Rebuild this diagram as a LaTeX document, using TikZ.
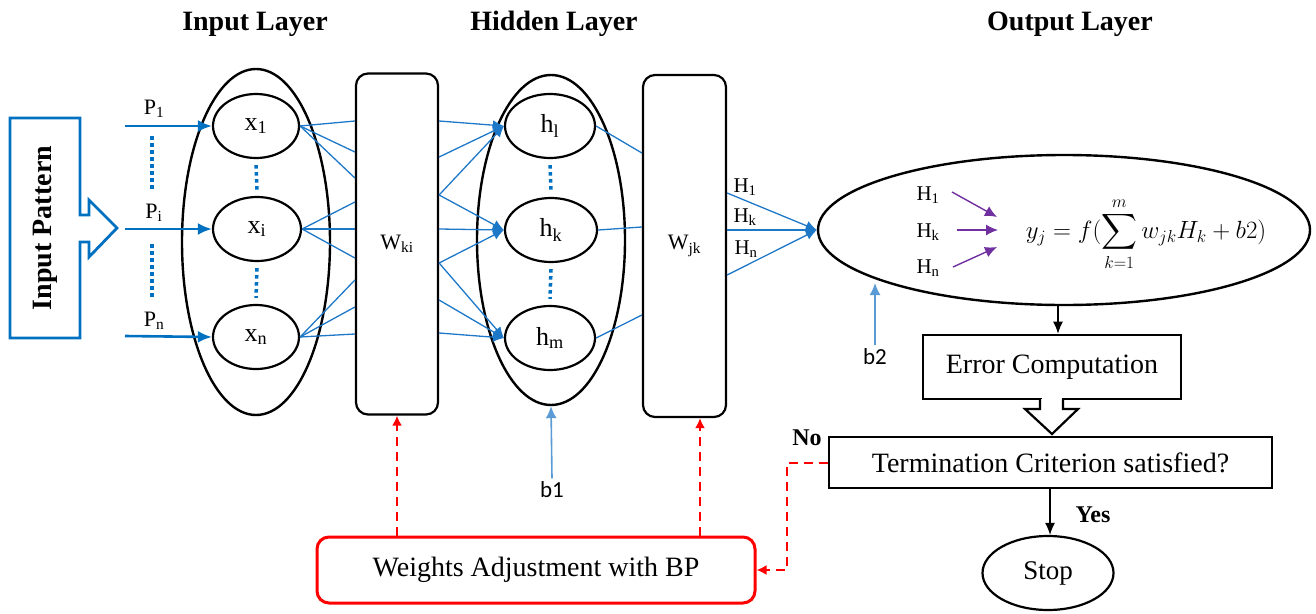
\documentclass[tikz,border=0pt]{standalone}
\usepackage{amsmath}
\usepackage{fontspec}
\setmainfont{Liberation Serif}
\newfontfamily\calib{Carlito}
\usetikzlibrary{shapes.geometric,arrows.meta,calc}
\definecolor{dblue}{RGB}{0,112,192}
\definecolor{lblue}{RGB}{30,120,200}
\definecolor{bblue}{RGB}{91,155,213}
\definecolor{purp}{RGB}{112,48,160}
\definecolor{myred}{RGB}{255,0,0}
\newcommand\fsz[1]{\fontsize{#1}{#1}\selectfont}
\tikzset{
  title/.style={font=\fsz{28}\bfseries},
  bigell/.style={ellipse, draw, line width=2.4pt, inner sep=0pt},
  neuron/.style={ellipse, draw, line width=2.2pt, inner sep=0pt, minimum height=64pt, font=\fsz{26}},
  wbox/.style={draw, line width=2.2pt, rounded corners=12pt, minimum width=82pt, minimum height=341pt, font=\fsz{22}},
  conn/.style={draw=lblue, line width=1.3pt},
  connarr/.style={conn, -{Latex[length=11pt,width=10pt]}},
  parrow/.style={draw=dblue, line width=2.6pt, -{Latex[length=14pt,width=12pt]}},
  dots/.style={draw=dblue, line width=3.5pt, dash pattern=on 3.5pt off 3.5pt},
  plabel/.style={font=\fsz{22}},
  hlab/.style={font=\fsz{21}},
  bias/.style={draw=bblue, line width=1.6pt, -{Latex[length=12pt,width=11pt]}},
  biaslab/.style={font=\calib\fsz{23}},
  parr/.style={draw=purp, line width=1.4pt, -{Latex[length=12pt,width=11pt]}},
  redarr/.style={draw=myred, line width=2pt, dash pattern=on 9pt off 6pt, -{Latex[length=10pt,width=10pt]}},
  flowbox/.style={draw, line width=2.6pt, font=\fsz{28}, inner sep=0pt},
  blkarr/.style={draw, line width=1.3pt, -{Latex[length=12pt,width=10pt]}},
}
\begin{document}
\begin{tikzpicture}[x=1pt,y=-1pt]
\useasboundingbox (0,0) rectangle (1316,613);

% titles
\node[title] (tin) at (255,24) {Input Layer};
\node[title] (thid) at (554,24) {Hidden Layer};
\node[title] (tout) at (1070,24) {Output Layer};

% input pattern block arrow
\draw[dblue, line width=2.8pt, line join=miter]
  (10,118) -- (80,118) -- (80,215) -- (89,215) -- (89,200) -- (117,228)
  -- (89,257) -- (89,242) -- (80,242) -- (80,338) -- (10,338) -- cycle;
\node[font=\fsz{28}\bfseries, rotate=90] (ip) at (45,228) {Input Pattern};

% input layer
\node[bigell, minimum width=148pt, minimum height=346pt] (inl) at (256,242) {};
\node[neuron, minimum width=86pt] (x1) at (256,126) {x\textsubscript{1}};
\node[neuron, minimum width=88pt] (xi) at (257,229) {x\textsubscript{i}};
\node[neuron, minimum width=86pt] (xn) at (256,337) {x\textsubscript{n}};
\draw[dots] ($(x1.south)+(0,6)$) -- ($(xi.north)+(0,-6)$);
\draw[dots] ($(xi.south)+(0,6)$) -- ($(xn.north)+(0,-6)$);

% P inputs
\coordinate (p1s) at (125,126);
\coordinate (pis) at (125,229);
\coordinate (pns) at (125,336);
\draw[parrow] (p1s) -- (x1.west);
\draw[parrow] (pis) -- (xi.west);
\draw[parrow] (pns) -- (xn.west);
\node[plabel] (p1) at (154,109) {P\textsubscript{1}};
\node[plabel] (pi) at (154,213) {P\textsubscript{i}};
\node[plabel] (pn) at (154,321) {P\textsubscript{n}};
\draw[dots] (152,136) -- (152,190);
\draw[dots] (152,244) -- (152,298);

% W_ki
\node[wbox] (wki) at (397,244) {W\textsubscript{ki}};
\foreach \y in {121,152,178} \draw[conn] (x1.east) -- (wki.west |- 0,\y);
\foreach \y in {202,229,258} \draw[conn] (xi.east) -- (wki.west |- 0,\y);
\foreach \y in {280,307,334} \draw[conn] (xn.east) -- (wki.west |- 0,\y);

% hidden layer
\node[bigell, minimum width=148pt, minimum height=330pt] (hid) at (551,240) {};
\node[neuron, minimum width=90pt] (h1) at (550,126) {h\textsubscript{l}};
\node[neuron, minimum width=92pt] (hk) at (551,230) {h\textsubscript{k}};
\node[neuron, minimum width=90pt] (hm) at (550,338) {h\textsubscript{m}};
\draw[dots] ($(h1.south)+(0,6)$) -- ($(hk.north)+(0,-6)$);
\draw[dots] ($(hk.south)+(0,6)$) -- ($(hm.north)+(0,-6)$);
\foreach \y in {121,157,195} \draw[connarr] (wki.east |- 0,\y) -- (h1.west);
\foreach \y in {195,229,263} \draw[connarr] (wki.east |- 0,\y) -- (hk.west);
\foreach \y in {263,300,333} \draw[connarr] (wki.east |- 0,\y) -- (hm.west);

% W_jk
\node[wbox, minimum width=83pt, minimum height=342pt] (wjk) at (684.5,246) {W\textsubscript{jk}};
\draw[conn] (h1.east) -- (wjk.west |- 0,153);
\draw[conn] (hk.east) -- (wjk.west |- 0,227);
\draw[conn] (hm.east) -- (wjk.west |- 0,315);

% output
\node[bigell, minimum width=492pt, minimum height=150pt] (out) at (1064,230) {};
\foreach \y in {193,230,275} \draw[connarr] (wjk.east |- 0,\y) -- (out.west);
\node[hlab] (oh1) at (745,187) {H\textsubscript{1}};
\node[hlab] (ohk) at (745,217) {H\textsubscript{k}};
\node[hlab] (ohn) at (746,249) {H\textsubscript{n}};

\node[hlab] (ih1) at (928,195) {H\textsubscript{1}};
\node[hlab] (ihk) at (928,232) {H\textsubscript{k}};
\node[hlab] (ihn) at (928,268) {H\textsubscript{n}};
\coordinate (a1) at (997,217);
\coordinate (ak) at (998,230);
\coordinate (an) at (997,247);
\draw[parr] (952,192) -- (a1);
\draw[parr] (957,230) -- (ak);
\draw[parr] (953,267) -- (an);
\node[font=\fsz{27}, inner sep=0pt] (form) at (1146,234) {$\displaystyle y_j = f(\sum_{k=1}^{m} w_{jk}H_k + b2)$};

% biases
\node[biaslab] (b2) at (875,357) {b2};
\draw[bias] (b2.north) -- (875,283);
\node[biaslab] (b1) at (552,490) {b1};
\draw[bias] (b1.north) -- (hid.south);

% flow
\node[flowbox, minimum width=258pt, minimum height=64pt] (err) at (1052,367) {Error Computation};
\draw[blkarr] (out.south -| 1058,0) -- (err.north -| 1058,0);
\node[flowbox, minimum width=443pt, minimum height=51pt] (term) at (1050.5,462.5) {Termination Criterion satisfied?};
\fill[white] (1041.5,396) rectangle (1061.5,402);
\draw[line width=2.2pt, line join=miter, fill=white]
  (1040,399) -- (1040,409) -- (1025,409) -- (1052,434) -- (1078,409) -- (1063,409) -- (1063,399);
\node[bigell, line width=2.2pt, minimum width=131pt, minimum height=74pt, font=\fsz{27}] (stop) at (1048,573) {Stop};
\draw[blkarr] (term.south -| 1050,0) -- (stop.north -| 1050,0);
\node[font=\fsz{24}\bfseries] (yes) at (1093,515) {Yes};
\node[font=\fsz{24}\bfseries] (no) at (807,438) {No};

% weights adjustment
\node[draw=myred, line width=3pt, rounded corners=12pt, minimum width=438pt, minimum height=66pt, font=\fsz{28}] (wts) at (536,570) {Weights Adjustment with BP};
\draw[redarr] (wts.north -| wki.south) -- (wki.south);
\draw[redarr] (wts.north -| 700,0) -- (wjk.south -| 700,0);
\draw[redarr] (term.west) -- (787,462.5) -- (787,570) -- (wts.east);
\end{tikzpicture}
\end{document}
